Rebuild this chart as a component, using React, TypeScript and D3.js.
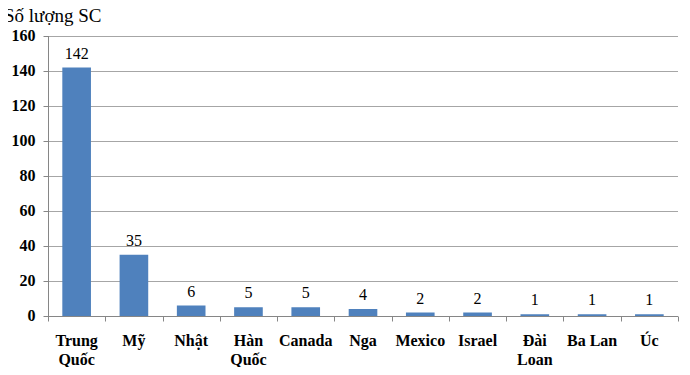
import React from "react";
import * as d3 from "d3";

const countries = ["Trung Quốc", "Mỹ", "Nhật", "Hàn Quốc", "Canada", "Nga", "Mexico", "Israel", "Đài Loan", "Ba Lan", "Úc"];
const counts = [142, 35, 6, 5, 5, 4, 2, 2, 1, 1, 1];
const yTicks = [0, 20, 40, 60, 80, 100, 120, 140, 160];
const yTitle = "Số lượng SC";

// how the labels wrap, like the original
const labelLines: Record<string, string[]> = {
  "Trung Quốc": ["Trung", "Quốc"],
  "Hàn Quốc": ["Hàn", "Quốc"],
  "Đài Loan": ["Đài", "Loan"],
};

const width = 690, height = 375;
const margin = { top: 36, right: 12, bottom: 58, left: 48 };
const font = "Liberation Serif, Times New Roman, serif";

export default function App() {
  const x = d3.scaleBand().domain(countries).range([margin.left, width - margin.right]).paddingInner(0.5).paddingOuter(0.25);
  const y = d3.scaleLinear().domain([0, 160]).range([height - margin.bottom - 1, margin.top]);
  const baseY = Math.round(y(0)) + 0.5;
  const bounds = d3.range(countries.length + 1).map(i => Math.round(margin.left + i * x.step()) + 0.5);
  const axisX = margin.left + 0.5;

  return (
    <div style={{ margin: -8, fontFamily: font }}>
      <svg width={width} height={height} style={{ display: "block", background: "#fff" }}>
        {/* grid */}
        {yTicks.filter(d => d > 0).map(d => (
          <line key={"g" + d} x1={margin.left} x2={width - margin.right}
            y1={Math.round(y(d)) + 0.5} y2={Math.round(y(d)) + 0.5} stroke="#a6a6a6" />
        ))}

        {/* y axis */}
        <line x1={axisX} x2={axisX} y1={y(160)} y2={baseY} stroke="#868686" />
        {yTicks.map(d => (
          <g key={"t" + d}>
            <line x1={axisX - 5} x2={axisX} y1={Math.round(y(d)) + 0.5} y2={Math.round(y(d)) + 0.5} stroke="#868686" />
            <text x={axisX - 13} y={y(d) + 5} textAnchor="end"
              style={{ fontFamily: font, fontWeight: 700, fontSize: "16px" }}>{d}</text>
          </g>
        ))}

        {/* bars */}
        {countries.map((c, i) => (
          <rect key={"b" + c} x={x(c)} width={x.bandwidth()} y={y(counts[i])}
            height={y(0) - y(counts[i])} fill="#4f81bd" />
        ))}

        {/* x axis */}
        <line x1={margin.left} x2={width - margin.right} y1={baseY} y2={baseY} stroke="#868686" />
        {bounds.map((b, i) => (
          <line key={"xt" + i} x1={b} x2={b} y1={baseY} y2={baseY + 5} stroke="#868686" />
        ))}

        {/* value labels */}
        {countries.map((c, i) => (
          <text key={"v" + c} x={x(c)! + x.bandwidth() / 2} y={y(counts[i]) - 9} textAnchor="middle"
            style={{ fontFamily: font, fontSize: "16px" }}>{counts[i]}</text>
        ))}

        {/* category labels */}
        {countries.map(c => (
          <text key={"c" + c} textAnchor="middle" style={{ fontFamily: font, fontWeight: 700, fontSize: "16px" }}>
            {(labelLines[c] || [c]).map((l, j) => (
              <tspan key={j} x={x(c)! + x.bandwidth() / 2} y={346 + j * 19}>{l}</tspan>
            ))}
          </text>
        ))}

        {/* title */}
        <text x={4} y={22} style={{ fontFamily: font, fontSize: "19px" }}>{yTitle}</text>
      </svg>
    </div>
  );
}
